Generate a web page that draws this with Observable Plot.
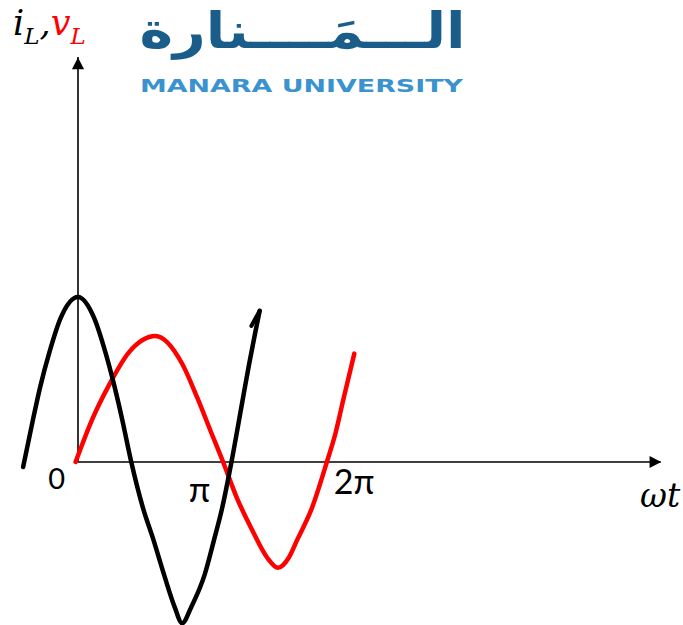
<!DOCTYPE html>
<html>
<head>
<meta charset="utf-8">
<script src="https://cdn.jsdelivr.net/npm/d3@7"></script>
<script src="https://cdn.jsdelivr.net/npm/@observablehq/plot@0.6"></script>
<style>
  html, body { margin: 0; padding: 0; background: #fff; }
  #wrap { position: relative; width: 683px; height: 625px; overflow: hidden; }
  #wrap svg { position: absolute; left: 0; top: 0; }
</style>
</head>
<body>
<div id="wrap"></div>
<script>
// ---- data ----
// inductor current i_L (black): ωt (rad) and value (relative units)
const iWT  = [-1.38, -1.13, -0.94, -0.72, -0.44, 0.00, 0.41, 0.69, 0.91, 1.11, 1.34, 1.63, 1.90, 2.16, 2.43, 2.62, 2.85, 3.19, 3.42, 3.63, 3.86, 4.14, 4.30, 4.46, 4.57];
const iVal = [-0.04, 0.34, 0.61, 0.87, 1.14, 1.31, 1.14, 0.87, 0.61, 0.34, 0.00, -0.36, -0.62, -0.89, -1.15, -1.28, -1.15, -0.89, -0.62, -0.36, 0.00, 0.49, 0.77, 1.03, 1.20];
// small pen hook at the end of the i_L stroke
const hookWT  = [4.57, 4.36];
const hookVal = [1.20, 1.08];
// inductor voltage v_L (red)
const vWT  = [-0.06, 0.36, 0.78, 1.28, 1.95, 2.62, 3.00, 3.33, 3.65, 3.99, 4.38, 4.76, 5.03, 5.30, 5.51, 5.89, 6.26, 6.47, 6.67, 6.95];
const vVal = [0.00, 0.34, 0.61, 0.87, 1.00, 0.78, 0.51, 0.25, 0.00, -0.28, -0.54, -0.76, -0.84, -0.76, -0.62, -0.36, 0.00, 0.22, 0.49, 0.86];
// axis tick labels
const tickLabels = ["0", "π", "2π"];
const tickValues = [0, Math.PI, 2 * Math.PI];
const xAxisEnd = 14.67;   // ωt where the x-axis arrow ends
const yAxisTop = 3.21;    // value where the y-axis arrow ends
const xLabel = "ωt";

// ---- build tables ----
const iData = iWT.map((x, k) => ({x, y: iVal[k]}));
const hookData = hookWT.map((x, k) => ({x, y: hookVal[k]}));
const vData = vWT.map((x, k) => ({x, y: vVal[k]}));

// custom filled arrowheads
const triUp = {draw(ctx, size) { const k = Math.sqrt(size / Math.PI);
  ctx.moveTo(0, -1.5 * k); ctx.lineTo(1.35 * k, 1.1 * k); ctx.lineTo(-1.35 * k, 1.1 * k); ctx.closePath(); }};
const triRight = {draw(ctx, size) { const k = Math.sqrt(size / Math.PI);
  ctx.moveTo(1.5 * k, 0); ctx.lineTo(-1.1 * k, 1.35 * k); ctx.lineTo(-1.1 * k, -1.35 * k); ctx.closePath(); }};

const chart = Plot.plot({
  width: 683,
  height: 625,
  marginTop: 0, marginRight: 0, marginBottom: 0, marginLeft: 0,
  x: {domain: [0, 2 * Math.PI], range: [77.5, 327.3], axis: null},
  y: {domain: [0, 1], range: [461.5, 335.5], axis: null},
  style: {background: "#fff", overflow: "visible"},
  marks: [
    // axes
    Plot.ruleY([0], {x1: 0, x2: xAxisEnd, stroke: "#000", strokeWidth: 1.6}),
    Plot.ruleX([0], {y1: 0, y2: yAxisTop, stroke: "#000", strokeWidth: 1.6}),
    Plot.dot([0], {x: xAxisEnd, y: 0, symbol: triRight, r: 4.5, fill: "#000", stroke: "none", dx: -6.75}),
    Plot.dot([0], {x: 0, y: yAxisTop, symbol: triUp, r: 4.5, fill: "#000", stroke: "none", dy: 6.75}),
    // curves
    Plot.line(vData, {x: "x", y: "y", curve: "monotone-x", stroke: "#ff0000", strokeWidth: 4.5}),
    Plot.line(iData, {x: "x", y: "y", curve: "monotone-x", stroke: "#000", strokeWidth: 4.5}),
    Plot.line(hookData, {x: "x", y: "y", stroke: "#000", strokeWidth: 4, strokeLinecap: "round"}),
    // tick labels
    Plot.text([0], {x: tickValues[0], y: 0, text: () => tickLabels[0], textAnchor: "end", lineAnchor: "bottom",
      dx: -13, dy: 26.5, fontSize: 29, fontFamily: "Lato, 'Noto Sans', sans-serif", fill: "#000"}),
    Plot.text([0], {x: tickValues[1], y: 0, text: () => tickLabels[1], textAnchor: "middle", lineAnchor: "bottom",
      dx: -3.5, dy: 39.5, fontSize: 35, fontFamily: "Lato, 'Noto Sans', sans-serif", fill: "#000"}),
    Plot.text([0], {x: tickValues[2], y: 0, text: () => tickLabels[2], textAnchor: "start", lineAnchor: "bottom",
      dx: 6, dy: 31.5, fontSize: 34, fontFamily: "Lato, 'Noto Sans', sans-serif", fill: "#000"}),
    // x-axis label
    Plot.text([0], {x: xAxisEnd, y: 0, text: () => xLabel, textAnchor: "end", lineAnchor: "bottom",
      dx: 19, dy: 44.5, fontSize: 33, fontStyle: "italic", fontFamily: "'DejaVu Serif', serif", fill: "#000"})
  ]
});
document.getElementById("wrap").appendChild(chart);

// ---- overlay: y-axis label and logo ----
const ov = d3.select("#wrap").append("svg")
  .attr("width", 683).attr("height", 625)
  .style("pointer-events", "none");

const yl = ov.append("text").attr("x", 13).attr("y", 35)
  .attr("font-family", "'DejaVu Serif', serif").attr("font-style", "italic").attr("font-size", 35);
yl.append("tspan").text("i");
yl.append("tspan").attr("font-size", 23).attr("dy", 9).text("L");
yl.append("tspan").attr("dy", -9).text(",");
yl.append("tspan").attr("fill", "#ff0000").text("v");
yl.append("tspan").attr("fill", "#ff0000").attr("font-size", 23).attr("dy", 9).text("L");

ov.append("text").attr("x", 302.5).attr("y", 48)
  .attr("text-anchor", "middle")
  .attr("textLength", 326).attr("lengthAdjust", "spacingAndGlyphs")
  .attr("font-family", "'DejaVu Sans', sans-serif").attr("font-weight", "bold").attr("font-size", 50)
  .attr("fill", "#1b5d8a")
  .text("الـــمَــــنارة");

ov.append("text").attr("x", 140).attr("y", 92)
  .attr("textLength", 323).attr("lengthAdjust", "spacingAndGlyphs")
  .attr("font-family", "'DejaVu Sans', sans-serif").attr("font-weight", "bold").attr("font-size", 17)
  .attr("fill", "#3a92cf")
  .text("MANARA UNIVERSITY");
</script>
</body>
</html>
